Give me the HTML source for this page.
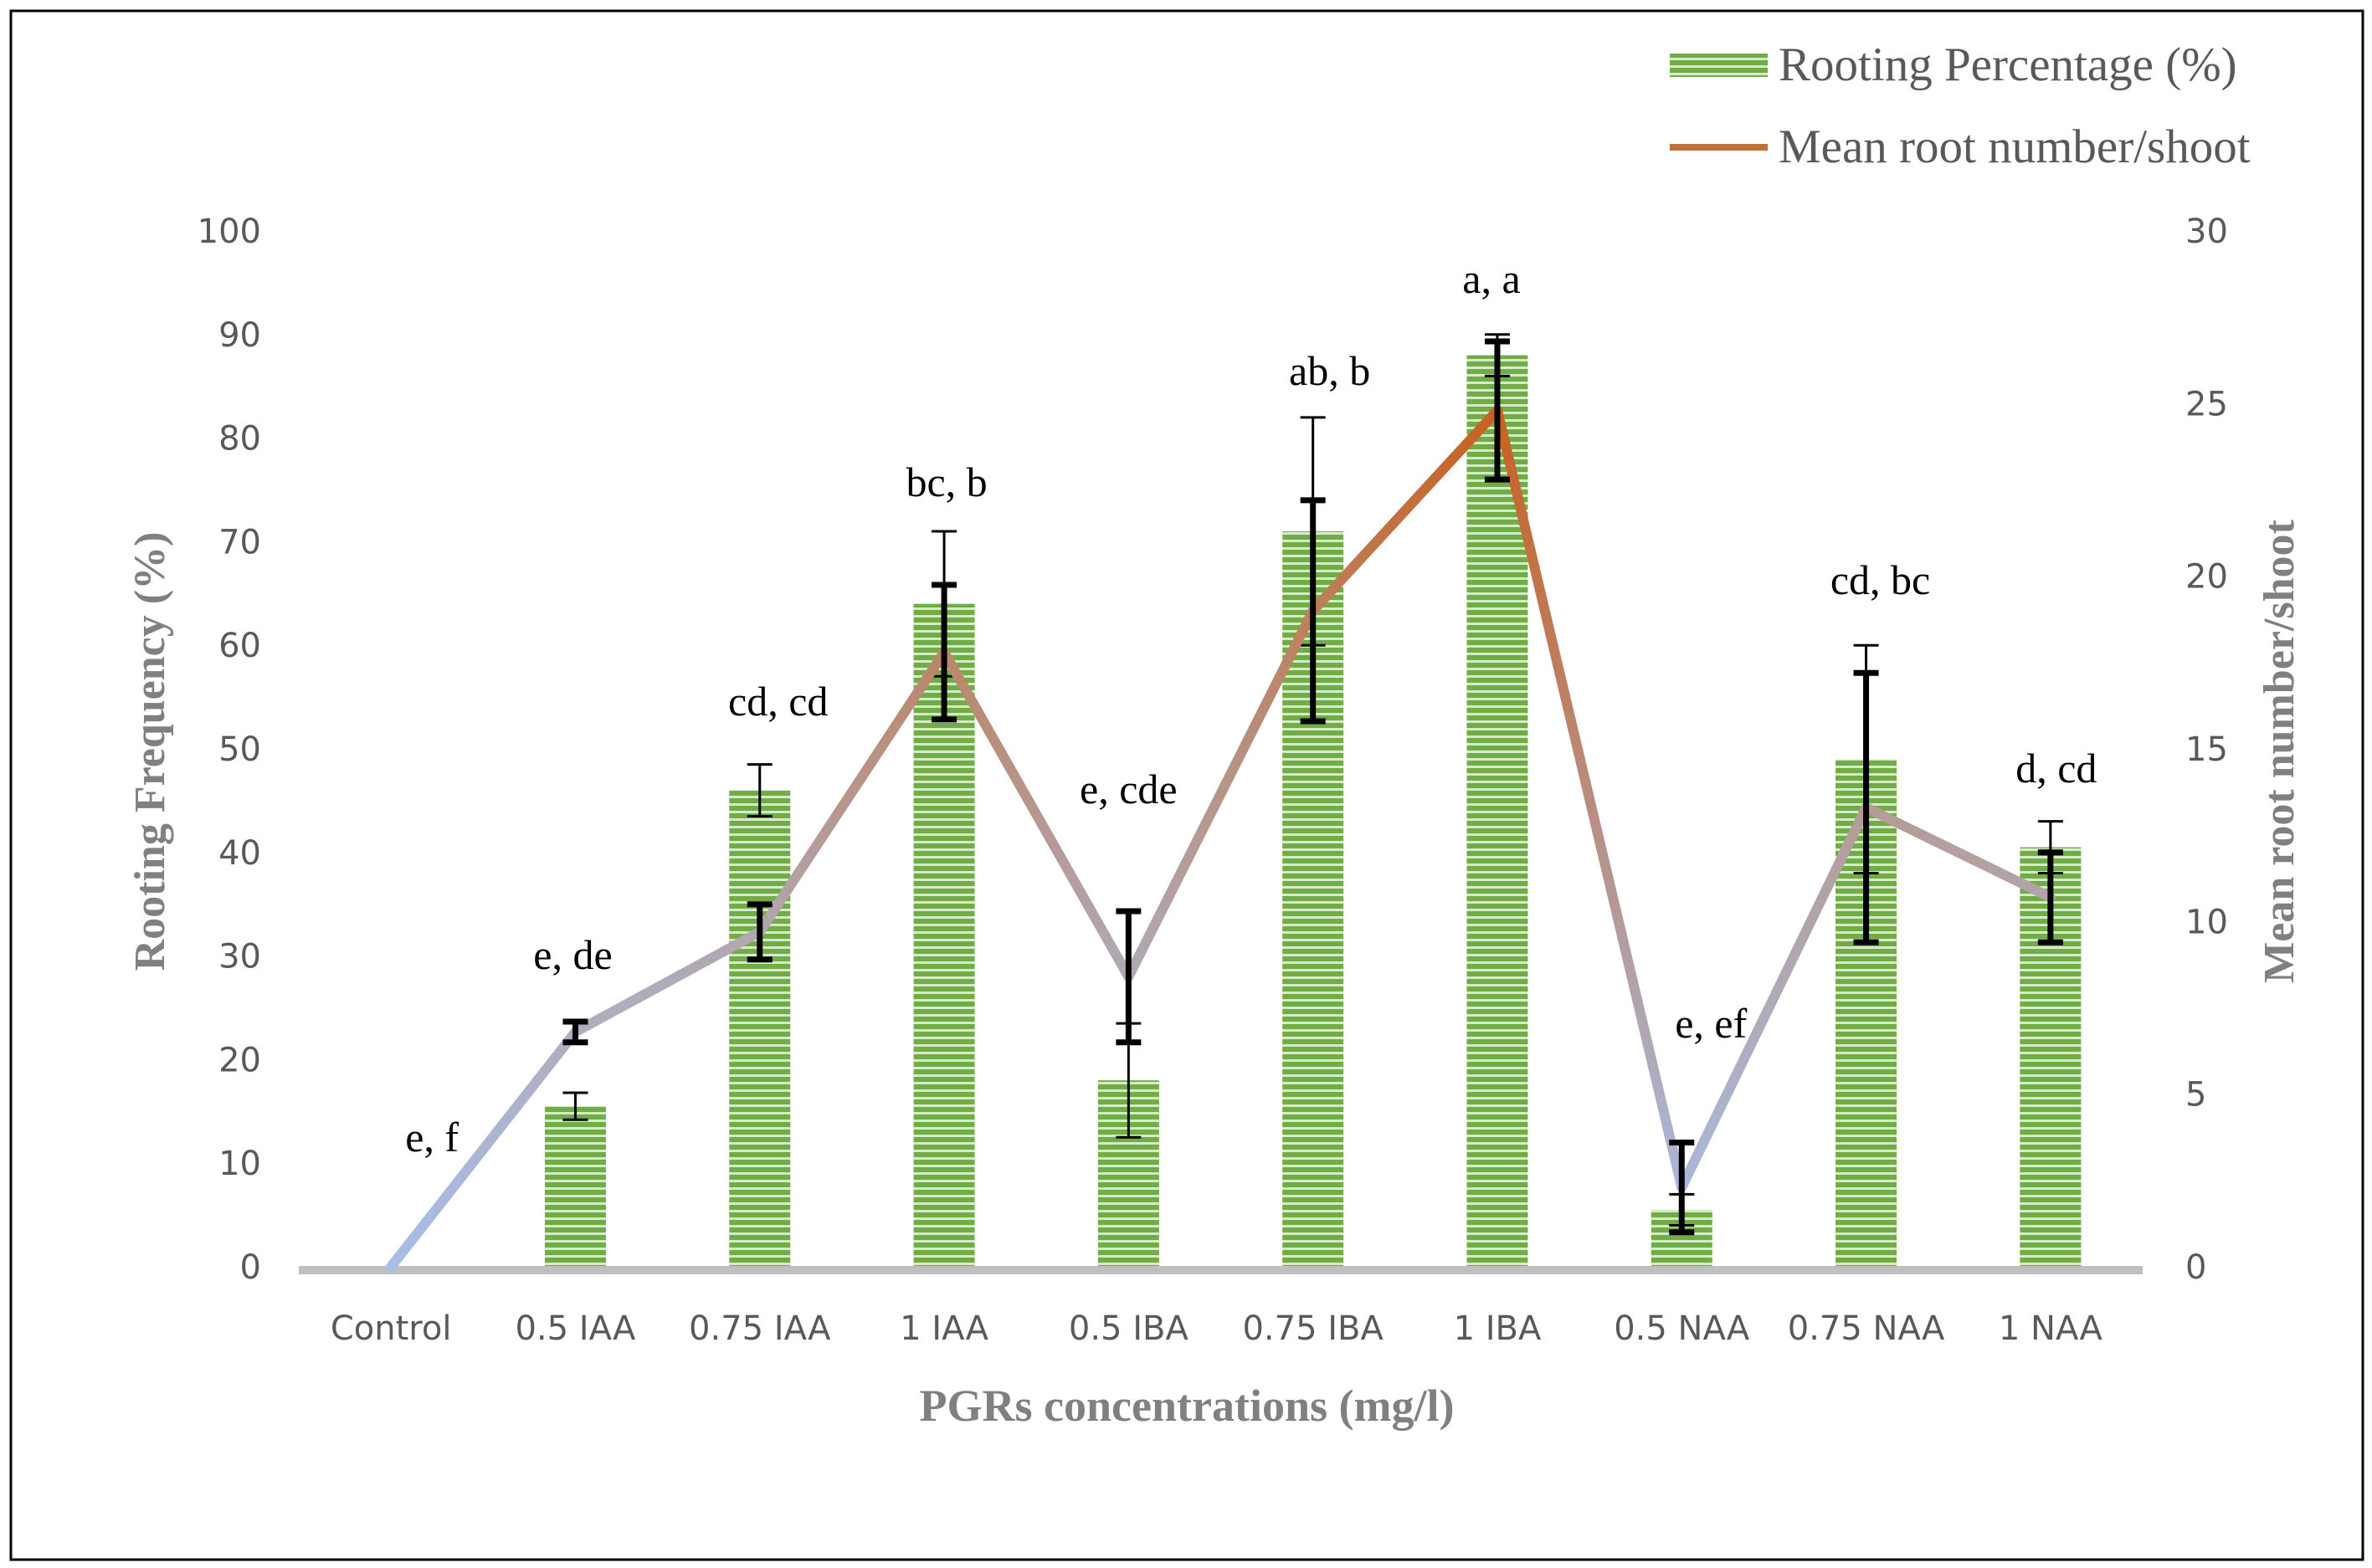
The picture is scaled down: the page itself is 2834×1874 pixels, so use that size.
<!DOCTYPE html>
<html><head><meta charset="utf-8"><style>
html,body{margin:0;padding:0;background:#fff}
svg{display:block}
.tk{font-family:"DejaVu Sans","Liberation Sans",sans-serif;font-size:40px;fill:#595959}
.ser{font-family:"Liberation Serif",serif}
</style></head><body>
<svg id="chart" width="2834" height="1874" viewBox="0 0 2834 1874" xmlns="http://www.w3.org/2000/svg">
<defs>
<pattern id="stripes" width="8" height="9" patternUnits="userSpaceOnUse">
<rect width="8" height="9" fill="#d8ebc9"/>
<rect y="0" width="8" height="6" fill="#70ad47"/>
</pattern>
</defs>
<rect x="13" y="13" width="2810" height="1851" fill="#fff" stroke="#000" stroke-width="3"/>
<g id="plot"></g>
<g>
<rect x="1995" y="64" width="117" height="28" fill="url(#stripes)"/>
<text x="2125" y="96" class="ser" font-size="57" fill="#595959">Rooting Percentage (%)</text>
<line x1="1995" y1="176" x2="2112" y2="176" stroke="#c0703a" stroke-width="8"/>
<text x="2125" y="194" class="ser" font-size="57" fill="#595959">Mean root number/shoot</text>
</g>
<text transform="translate(196,898) rotate(-90)" text-anchor="middle" class="ser" font-size="52" font-weight="bold" fill="#808080">Rooting Frequency (%)</text>
<text transform="translate(2740,898) rotate(-90)" text-anchor="middle" class="ser" font-size="52" font-weight="bold" fill="#808080">Mean root  number/shoot</text>
<text x="1418" y="1698" text-anchor="middle" class="ser" font-size="54" font-weight="bold" fill="#808080">PGRs concentrations (mg/l)</text>
</svg>
<script>
const categories=["Control","0.5 IAA","0.75 IAA","1 IAA","0.5 IBA","0.75 IBA","1 IBA","0.5 NAA","0.75 NAA","1 NAA"];
const rootingPct=[0,15.5,46,64,18,71,88,5.5,49,40.5];
const rootingErr=[0,1.3,2.5,7,5.5,11,2,1.5,11,2.5];
const meanRoots=[0,6.8,9.7,17.8,8.4,19,24.8,2.3,13.3,10.7];
const meanRootsErr=[0,0.3,0.8,1.95,1.9,3.2,2,1.3,3.9,1.3];
const sigLabels=["e, f","e, de","cd, cd","bc, b","e, cde","ab, b","a, a","e, ef","cd, bc","d, cd"];
const leftTicks=[0,10,20,30,40,50,60,70,80,90,100];
const rightTicks=[0,5,10,15,20,25,30];

const NS="http://www.w3.org/2000/svg";
const g=document.getElementById('plot');
const defs=document.querySelector('defs');
const X0=357,X1=2560,Y0=1514,Y1=276;
const band=(X1-X0)/categories.length;
const xc=i=>X0+band*(i+0.5);
const yL=v=>Y0-(v/100)*(Y0-Y1);
const yR=v=>Y0-(v/30)*(Y0-Y1);
function mk(tag,attrs,parent){const e=document.createElementNS(NS,tag);for(const k in attrs)e.setAttribute(k,attrs[k]);(parent||g).appendChild(e);return e;}

leftTicks.forEach(t=>{const e=mk('text',{x:312,y:yL(t)+14,'text-anchor':'end',class:'tk'});e.textContent=t;

});
rightTicks.forEach(t=>{const e=mk('text',{x:2611,y:yR(t)+14,class:'tk'});e.textContent=t;

});

const bw=73;
rootingPct.forEach((v,i)=>{
  if(v>0){const r=mk('rect',{x:xc(i)-bw/2,y:yL(v),width:bw,height:Y0-yL(v),fill:'url(#stripes)'});
  
  }
});
const ax=mk('line',{x1:X0,y1:Y0+4,x2:X1,y2:Y0+4,stroke:'#bfbfbf','stroke-width':10});



rootingPct.forEach((v,i)=>{
  const e=rootingErr[i];if(!e)return;
  const x=xc(i),a=yL(v+e),b=yL(v-e);
  const eg=mk('g',{stroke:'#000','stroke-width':3});
  
  
  mk('line',{x1:x,y1:a,x2:x,y2:b},eg);mk('line',{x1:x-15,y1:a,x2:x+15,y2:a},eg);mk('line',{x1:x-15,y1:b,x2:x+15,y2:b},eg);
});

function col(v){const t=Math.min(1,v/25);
 const c0=[168,190,232],c1=[180,160,158],c2=[200,96,30];
 let a,b,u;if(t<0.5){a=c0;b=c1;u=t/0.5}else{a=c1;b=c2;u=(t-0.5)/0.5}
 return 'rgb('+a.map((x,k)=>Math.round(x+(b[k]-x)*u)).join(',')+')';}
for(let i=0;i<meanRoots.length-1;i++){
  const id='lg'+i;
  const lg=mk('linearGradient',{id:id,gradientUnits:'userSpaceOnUse',x1:xc(i),y1:yR(meanRoots[i]),x2:xc(i+1),y2:yR(meanRoots[i+1])},defs);
  mk('stop',{offset:0,'stop-color':col(meanRoots[i])},lg);mk('stop',{offset:1,'stop-color':col(meanRoots[i+1])},lg);
  const s=mk('line',{x1:xc(i),y1:yR(meanRoots[i]),x2:xc(i+1),y2:yR(meanRoots[i+1]),stroke:'url(#'+id+')','stroke-width':12,'stroke-linecap':'round'});
  
  
}
meanRoots.forEach((v,i)=>{
  const e=meanRootsErr[i];if(!e)return;
  const x=xc(i),a=yR(v+e),b=yR(v-e);
  const eg=mk('g',{stroke:'#000','stroke-width':7});
  
  
  mk('line',{x1:x,y1:a,x2:x,y2:b},eg);mk('line',{x1:x-15,y1:a,x2:x+15,y2:a},eg);mk('line',{x1:x-15,y1:b,x2:x+15,y2:b},eg);
});

categories.forEach((c,i)=>{const e=mk('text',{x:xc(i),y:1601,'text-anchor':'middle',class:'tk'});e.textContent=c;

});

sigLabels.forEach((s,i)=>{
  const e=mk('text',{x:xc(i)+[49,-3,22,3,0,20,-7,35,17,7][i],y:[1376,1158,855,593,960,460,350,1240,710,935][i],'text-anchor':'middle',class:'ser','font-size':50,fill:'#000'});
  e.textContent=s;
  
  
});
</script>
</body></html>
